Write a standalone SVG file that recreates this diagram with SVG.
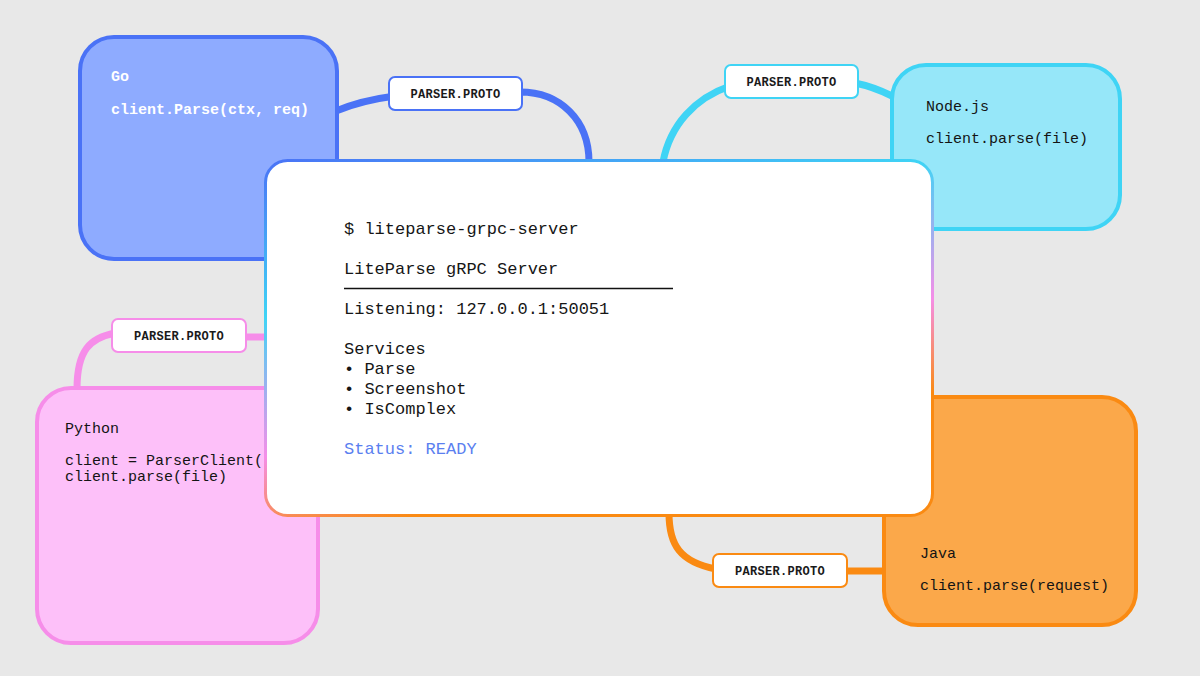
<svg xmlns="http://www.w3.org/2000/svg" width="1200" height="676" viewBox="0 0 1200 676">
<defs>
<linearGradient id="cardStroke" gradientUnits="userSpaceOnUse" x1="266" y1="159" x2="408" y2="758">
<stop offset="0" stop-color="#4a72f6"/>
<stop offset="0.25" stop-color="#3fd4f5"/>
<stop offset="0.47" stop-color="#f58ee8"/>
<stop offset="0.62" stop-color="#fa8a12"/>
<stop offset="1" stop-color="#fa8a12"/>
</linearGradient>
</defs>
<style>
.conn{fill:none;stroke-width:7;stroke-linecap:butt}
.box{stroke-width:4}
.lbl{fill:#ffffff;stroke-width:2}
.lbltxt{font-family:"Liberation Mono","DejaVu Sans Mono",monospace;font-size:12px;font-weight:bold;fill:#1a1a1a;text-anchor:middle;letter-spacing:0.3px}
.code{font-family:"Liberation Mono","DejaVu Sans Mono",monospace;font-size:15px;fill:#141414}
.term{font-family:"Liberation Mono","DejaVu Sans Mono",monospace;font-size:17px;fill:#161616}
</style>
<rect x="0" y="0" width="1200" height="676" fill="#e8e8e8"/>

<g id="connectors">
<path class="conn" stroke="#4a72f6" d="M336,111 C355,103 372,99 395,96 L520,92 C560,92 589,120 589,162"/>
<path class="conn" stroke="#3fd4f5" d="M663,162 C670,125 695,98 730,86 L855,83 C870,86 880,90 892,96"/>
<path class="conn" stroke="#f68de9" d="M268,337 L245,337 L115,333 C90,338 77,350 77,389"/>
<path class="conn" stroke="#fa8a12" d="M669,513 C669,545 680,562 716,569 L845,571 L886,571"/>
</g>

<g id="go">
<rect class="box" x="80" y="37" width="257" height="222" rx="34" fill="#8eabff" stroke="#4a72f6"/>
<text x="111" y="81" class="code" font-weight="bold" fill="#ffffff" style="fill:#ffffff">Go</text>
<text x="111" y="114" class="code" font-weight="bold" style="fill:#ffffff">client.Parse(ctx, req)</text>
</g>

<g id="nodejs">
<rect class="box" x="892" y="65" width="228" height="164" rx="34" fill="#96e7f9" stroke="#3fd4f5"/>
<text x="926" y="111" class="code">Node.js</text>
<text x="926" y="143" class="code">client.parse(file)</text>
</g>

<g id="python">
<rect class="box" x="37" y="388" width="281" height="255" rx="34" fill="#fdc0f9" stroke="#f68de9"/>
<text x="65" y="433" class="code">Python</text>
<text x="65" y="465" class="code">client = ParserClient(</text>
<text x="65" y="481" class="code">client.parse(file)</text>
</g>

<g id="java">
<rect class="box" x="884" y="397" width="252" height="228" rx="34" fill="#fba84a" stroke="#fa8a12"/>
<text x="920" y="558" class="code">Java</text>
<text x="920" y="590" class="code">client.parse(request)</text>
</g>

<g id="label-go">
<rect class="lbl" x="389" y="77" width="133" height="33" rx="6" stroke="#4a72f6"/>
<text x="455.5" y="98" class="lbltxt">PARSER.PROTO</text>
</g>
<g id="label-node">
<rect class="lbl" x="725" y="65" width="133" height="33" rx="6" stroke="#3fd4f5"/>
<text x="791.5" y="86" class="lbltxt">PARSER.PROTO</text>
</g>
<g id="label-python">
<rect class="lbl" x="112" y="319" width="134" height="33" rx="6" stroke="#f68de9"/>
<text x="179" y="340" class="lbltxt">PARSER.PROTO</text>
</g>
<g id="label-java">
<rect class="lbl" x="713" y="554" width="134" height="33" rx="6" stroke="#fa8a12"/>
<text x="780" y="575" class="lbltxt">PARSER.PROTO</text>
</g>

<g id="server">
<rect x="265.5" y="160.5" width="667" height="355" rx="22" fill="#ffffff" stroke="url(#cardStroke)" stroke-width="3"/>
<text x="344" y="234" class="term">$ liteparse-grpc-server</text>
<text x="344" y="274" class="term">LiteParse gRPC Server</text>
<line x1="344" y1="288.5" x2="673" y2="288.5" stroke="#111111" stroke-width="1.5"/>
<text x="344" y="314" class="term">Listening: 127.0.0.1:50051</text>
<text x="344" y="354" class="term">Services</text>
<text x="344" y="374" class="term">• Parse</text>
<text x="344" y="394" class="term">• Screenshot</text>
<text x="344" y="414" class="term">• IsComplex</text>
<text x="344" y="454" class="term" style="fill:#5b7ff0">Status: READY</text>
</g>
</svg>
